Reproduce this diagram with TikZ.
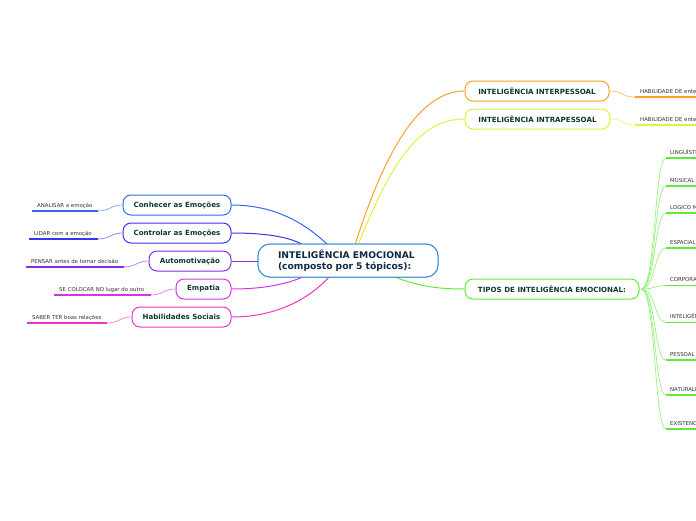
\documentclass[tikz,border=0pt]{standalone}
\usepackage{fontspec}
\setmainfont{DejaVu Sans}
\begin{document}
\begin{tikzpicture}[x=1pt,y=-1pt,
  central/.style={draw=cCen,line width=1pt,fill=white,rounded corners=12pt,minimum width=180pt,minimum height=33pt,inner sep=0pt,
    font=\fontsize{9.2}{11}\selectfont\bfseries,text=cNavy,align=left,text width=140pt},
  branch/.style={draw=#1,line width=1pt,fill=white,rounded corners=8pt,minimum height=20pt,inner sep=0pt,
    font=\fontsize{7.1}{8}\selectfont\bfseries,text=cTxt},
  leaf/.style={font=\fontsize{5.4}{6}\selectfont,text=cLeaf,inner sep=0pt,anchor=base west},
  conn/.style={draw=#1,line width=1pt},
  sub/.style={draw=#1!65,line width=0.7pt},
  uline/.style={draw=#1,line width=1.6pt}]
\definecolor{cCen}{HTML}{3A8FD9}
\definecolor{cNavy}{HTML}{0E2A47}
\definecolor{cTxt}{HTML}{0C3B2E}
\definecolor{cLeaf}{HTML}{333333}
\definecolor{cOr}{HTML}{F7A12A}
\definecolor{cYe}{HTML}{D7F53E}
\definecolor{cGr}{HTML}{5FEA38}
\definecolor{cBl}{HTML}{2E6BF0}
\definecolor{cIn}{HTML}{3B33EE}
\definecolor{cPu}{HTML}{8A2BE6}
\definecolor{cMa}{HTML}{D833E6}
\definecolor{cPk}{HTML}{EE33C8}
\useasboundingbox (0,0) rectangle (696,520);
\clip (0,0) rectangle (696,520);

\coordinate (cA) at (355,245);
\coordinate (cB) at (358,245);
\coordinate (cC) at (328,245);
\coordinate (cD) at (303,245);
\coordinate (cE) at (305,276);
\coordinate (cF) at (330,276);
\coordinate (cG) at (392,276);
\coordinate (cH) at (259,261);

% nodes
\node[central] (main) at (348,260.5) {INTELIGÊNCIA EMOCIONAL\\(composto por 5 tópicos):};
\node[branch=cOr,minimum width=144pt] (inter) at (537,91) {INTELIGÊNCIA INTERPESSOAL};
\node[branch=cYe,minimum width=145pt] (intra) at (537.5,119) {INTELIGÊNCIA INTRAPESSOAL};
\node[branch=cGr,minimum width=174pt] (tipos) at (552,289) {TIPOS DE INTELIGÊNCIA EMOCIONAL:};
\node[branch=cBl,minimum width=108pt] (conh) at (177,205) {Conhecer as Emoções};
\node[branch=cIn,minimum width=108pt] (cont) at (177,233) {Controlar as Emoções};
\node[branch=cPu,minimum width=82pt] (auto) at (190,261) {Automotivação};
\node[branch=cMa,minimum width=55pt] (emp) at (203.5,289) {Empatia};
\node[branch=cPk,minimum width=99pt] (hab) at (181.5,317) {Habilidades Sociais};

\draw[conn=cOr] (cA) .. controls (385,150) and (420,91) .. (inter.west);
\draw[conn=cYe] (cB) .. controls (392,160) and (420,119) .. (intra.west);
\draw[conn=cGr] (cG) .. controls (420,287) and (440,289) .. (tipos.west);
\draw[conn=cBl] (conh.east) .. controls (280,205) and (310,228) .. (cC);
\draw[conn=cIn] (cont.east) .. controls (270,233) and (292,238) .. (cD);
\draw[conn=cPu] (auto.east) -- (cH);
\draw[conn=cMa] (emp.east) .. controls (270,289) and (292,282) .. (cE);
\draw[conn=cPk] (hab.east) .. controls (280,317) and (312,296) .. (cF);
\node[central] at (348,260.5) {INTELIGÊNCIA EMOCIONAL\\(composto por 5 tópicos):};

% left leaves
\coordinate (l1a) at (32,211); \coordinate (l1b) at (98,211);
\draw[uline=cBl] (l1a) -- (l1b);
\node[leaf] (t1) at (37,207) {ANALISAR a emoção};
\draw[sub=cBl] (l1b) .. controls +(12,0) and +(-12,0) .. (conh.west);

\coordinate (l2a) at (29,239); \coordinate (l2b) at (98,239);
\draw[uline=cIn] (l2a) -- (l2b);
\node[leaf] (t2) at (34,235) {LIDAR com a emoção};
\draw[sub=cIn] (l2b) .. controls +(12,0) and +(-12,0) .. (cont.west);

\coordinate (l3a) at (26,267); \coordinate (l3b) at (124,267);
\draw[uline=cPu] (l3a) -- (l3b);
\node[leaf] (t3) at (31,263) {PENSAR antes de tomar decisão};
\draw[sub=cPu] (l3b) .. controls +(12,0) and +(-12,0) .. (auto.west);

\coordinate (l4a) at (54,295); \coordinate (l4b) at (151,295);
\draw[uline=cMa] (l4a) -- (l4b);
\node[leaf] (t4) at (59,291) {SE COLOCAR NO lugar do outro};
\draw[sub=cMa] (l4b) .. controls +(12,0) and +(-12,0) .. (emp.west);

\coordinate (l5a) at (27,323); \coordinate (l5b) at (107,323);
\draw[uline=cPk] (l5a) -- (l5b);
\node[leaf] (t5) at (32,319) {SABER TER boas relações};
\draw[sub=cPk] (l5b) .. controls +(12,0) and +(-12,0) .. (hab.west);

% right leaves of inter / intra
\coordinate (r1a) at (635,97); \coordinate (r1b) at (700,97);
\draw[uline=cOr] (r1a) -- (r1b);
\node[leaf] (u1) at (640,93) {HABILIDADE DE entender};
\draw[sub=cOr] (inter.east) .. controls +(14,0) and +(-14,0) .. (r1a);

\coordinate (r2a) at (635,125); \coordinate (r2b) at (700,125);
\draw[uline=cYe] (r2a) -- (r2b);
\node[leaf] (u2) at (640,121) {HABILIDADE DE entender};
\draw[sub=cYe] (intra.east) .. controls +(14,0) and +(-14,0) .. (r2a);

% tipos children
\coordinate (ts) at (641,289);
\foreach \y/\t [count=\i] in {158/LINGUÍSTICA, 186/MUSICAL, 213/LOGICO MATEMÁTICA, 248/ESPACIAL, 285.5/CORPORAL, 322.5/INTELIGÊNCIA, 360/PESSOAL, 395/NATURALISTA, 429/EXISTENCIAL}{
  \coordinate (k\i a) at (666,\y);
  \coordinate (k\i b) at (700,\y);
  \draw[uline=cGr] (k\i a) -- (k\i b);
  \node[leaf] (v\i) at (670,\y-4) {\t};
  \draw[sub=cGr] (ts) .. controls (656,289) and (654,\y) .. (k\i a);
}
\end{tikzpicture}
\end{document}
